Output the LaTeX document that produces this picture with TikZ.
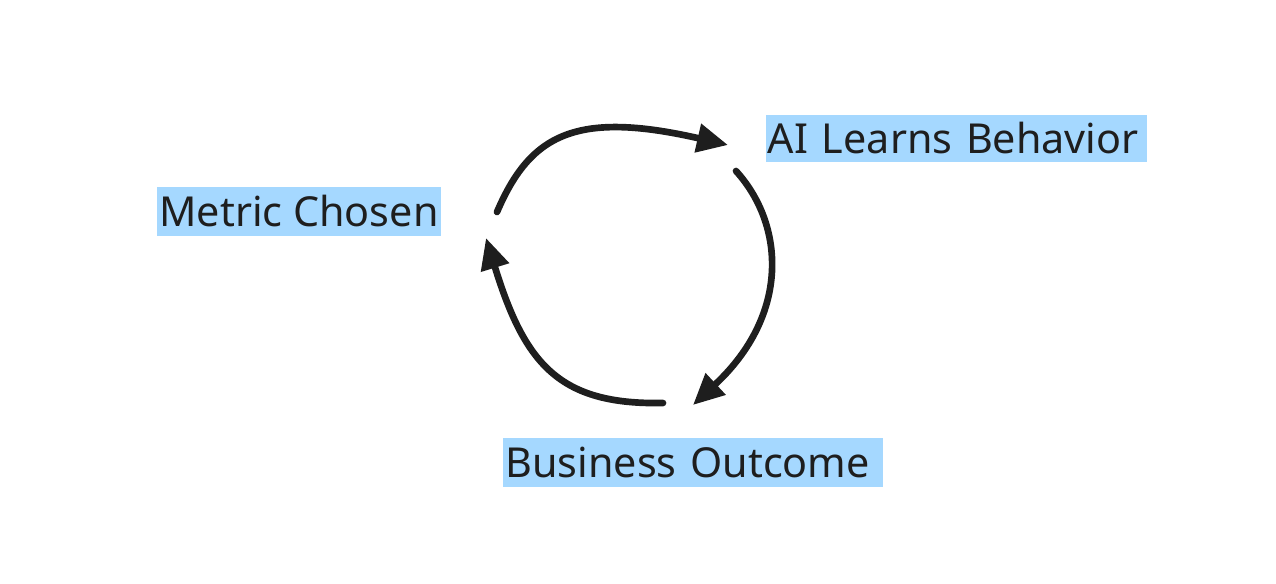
\documentclass[tikz,border=0pt]{standalone}
\usepackage{fontspec}
\setmainfont{Noto Sans}
\usepackage{tikz}
\usetikzlibrary{arrows.meta, positioning}
\definecolor{hl}{HTML}{A5D8FF}
\definecolor{ink}{HTML}{1E1E1E}

\begin{document}
\begin{tikzpicture}[x=0.02cm, y=-0.02cm,
    tag/.style={fill=hl, text=ink, inner xsep=1pt, inner ysep=0pt, align=left,
        font=\fontsize{23.5}{27}\selectfont},
    loop arrow/.style={line width=3.8pt, draw=ink, line cap=round,
        -{Triangle[length=0.62cm 0, width=0.56cm 0]}}]
    \useasboundingbox (0,0) rectangle (1276,584);

    % Labels
    \node[tag, minimum width=5.68cm, minimum height=0.98cm] (metric) at (299,211.5) {Metric Chosen};
    \node[tag, minimum width=7.62cm, minimum height=0.94cm, text width=7.55cm] (ai) at (956.5,138.5) {AI Learns Behavior};
    \node[tag, minimum width=7.6cm, minimum height=0.98cm, text width=7.5cm] (business) at (693,462.5) {Business Outcome};

    % Arrow ends
    \coordinate (m-out) at (497,212);
    \coordinate (ai-in) at (728,145);
    \coordinate (ai-out) at (736,171);
    \coordinate (b-in) at (693,405);
    \coordinate (b-out) at (663,403);
    \coordinate (m-in) at (486,238);

    % Arrows
    \draw[loop arrow] (m-out) .. controls (530,135) and (575,110) .. (ai-in);
    \draw[loop arrow] (ai-out) .. controls (785,225) and (790,315) .. (b-in);
    \draw[loop arrow] (b-out) .. controls (560,405) and (525,365) .. (m-in);
\end{tikzpicture}
\end{document}
